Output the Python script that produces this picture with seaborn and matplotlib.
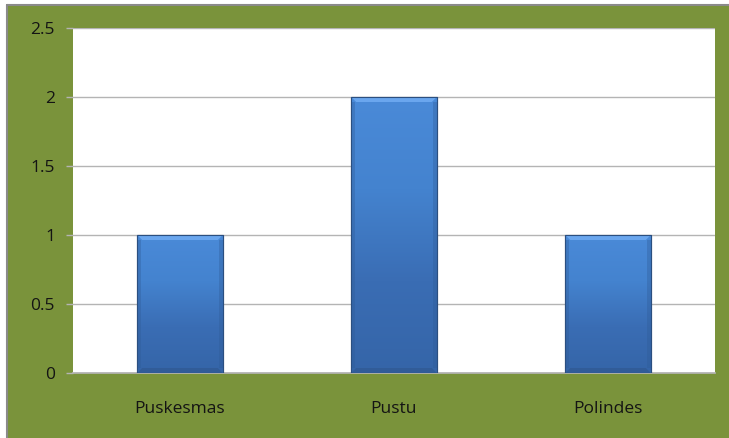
import numpy as np
import pandas as pd
import matplotlib
matplotlib.use("Agg")
import matplotlib.pyplot as plt
import seaborn as sns
from matplotlib.patches import Rectangle, Polygon
from matplotlib.colors import LinearSegmentedColormap

categories = ["Puskesmas", "Pustu", "Polindes"]
values = [1, 2, 1]
yticks = [0, 0.5, 1, 1.5, 2, 2.5]
ytick_labels = ["0", "0.5", "1", "1.5", "2", "2.5"]

df = pd.DataFrame({"cat": categories, "val": values})

sns.set_theme(style="white")
plt.rcParams['font.family'] = ['Open Sans', 'DejaVu Sans']

GREEN = "#7a933b"
W, H = 729, 438
fig = plt.figure(figsize=(7.29, 4.38), dpi=100, facecolor=GREEN)
ax = fig.add_axes([73 / W, 1 - 373 / H, (715 - 73) / W, (373 - 28) / H])
ax.set_facecolor("white")

sns.barplot(data=df, x="cat", y="val", ax=ax, width=0.4, color="#3f7bc8",
            edgecolor="#2b4f80", linewidth=0.8, zorder=3)

ax.set_ylim(0, 2.5)
ax.set_xlim(-0.5, 2.5)
ax.set_yticks(yticks)
ax.set_yticklabels(ytick_labels)
ax.yaxis.grid(True, color="#b4b4b4", linewidth=1.0, zorder=0)
ax.set_axisbelow(True)
ax.set_xlabel("")
ax.set_ylabel("")
for s in ["top", "right", "left"]:
    ax.spines[s].set_visible(False)
ax.spines["bottom"].set_color("#b4b4b4")
ax.tick_params(axis="y", length=5, width=1, color="#b4b4b4", direction="out",
               pad=8, labelsize=12.5, labelcolor="#141414", left=True)
ax.tick_params(axis="x", length=0, pad=20, labelsize=12.5, labelcolor="#141414")

# gradient overlay on each bar
cmap = LinearSegmentedColormap.from_list("g", ["#3565a8", "#3a6db4", "#4483cf", "#4a8ad8"])
grad = np.linspace(0, 1, 256).reshape(-1, 1)
px = 2.5 / 345.0  # data units per pixel vertically
pxw = 1.0 / 214.0  # data units per pixel horizontally
for p in list(ax.patches):
    x0, y0 = p.get_x(), p.get_y()
    w, h = p.get_width(), p.get_height()
    im = ax.imshow(grad, cmap=cmap, aspect="auto", origin="lower",
                   extent=[x0, x0 + w, y0, y0 + h], zorder=3.5)
    im.set_clip_path(p)
    # top bevel
    ax.add_patch(Polygon([(x0, y0 + h), (x0 + w, y0 + h),
                          (x0 + w - 5 * pxw, y0 + h - 5 * px), (x0 + 5 * pxw, y0 + h - 5 * px)],
                         closed=True, facecolor="#6aa6ee", edgecolor="none", zorder=4))
    # bottom bevel
    ax.add_patch(Polygon([(x0, y0), (x0 + w, y0),
                          (x0 + w - 5 * pxw, y0 + 5 * px), (x0 + 5 * pxw, y0 + 5 * px)],
                         closed=True, facecolor="#315c98", edgecolor="none", zorder=4))
    # side shading
    ax.add_patch(Rectangle((x0, y0 + 5 * px), 4 * pxw, h - 10 * px, facecolor="#2f5b96",
                           alpha=0.35, edgecolor="none", zorder=4))
    ax.add_patch(Rectangle((x0 + w - 4 * pxw, y0 + 5 * px), 4 * pxw, h - 10 * px,
                           facecolor="#2f5b96", alpha=0.35, edgecolor="none", zorder=4))
    ax.add_patch(Rectangle((x0, y0), w, h, fill=False, edgecolor="#2b4f80",
                           linewidth=0.8, zorder=4.5))
ax.set_xlim(-0.5, 2.5)
ax.set_ylim(0, 2.5)

# gray outer border at top and left, white outside
fig.add_artist(Rectangle((0, 0), 6 / W, 1, transform=fig.transFigure,
                         facecolor="white", edgecolor="none", zorder=-1))
fig.add_artist(Rectangle((0, 1 - 4 / H), 1, 4 / H, transform=fig.transFigure,
                         facecolor="white", edgecolor="none", zorder=-1))
fig.lines.append(plt.Line2D([6.5 / W, 6.5 / W], [0, 1 - 4.5 / H], transform=fig.transFigure,
                            color="#8a8a8a", linewidth=1.5))
fig.lines.append(plt.Line2D([6.5 / W, 1], [1 - 4.5 / H, 1 - 4.5 / H], transform=fig.transFigure,
                            color="#8a8a8a", linewidth=1.5))

fig.savefig("out.png", dpi=100, facecolor=GREEN)
